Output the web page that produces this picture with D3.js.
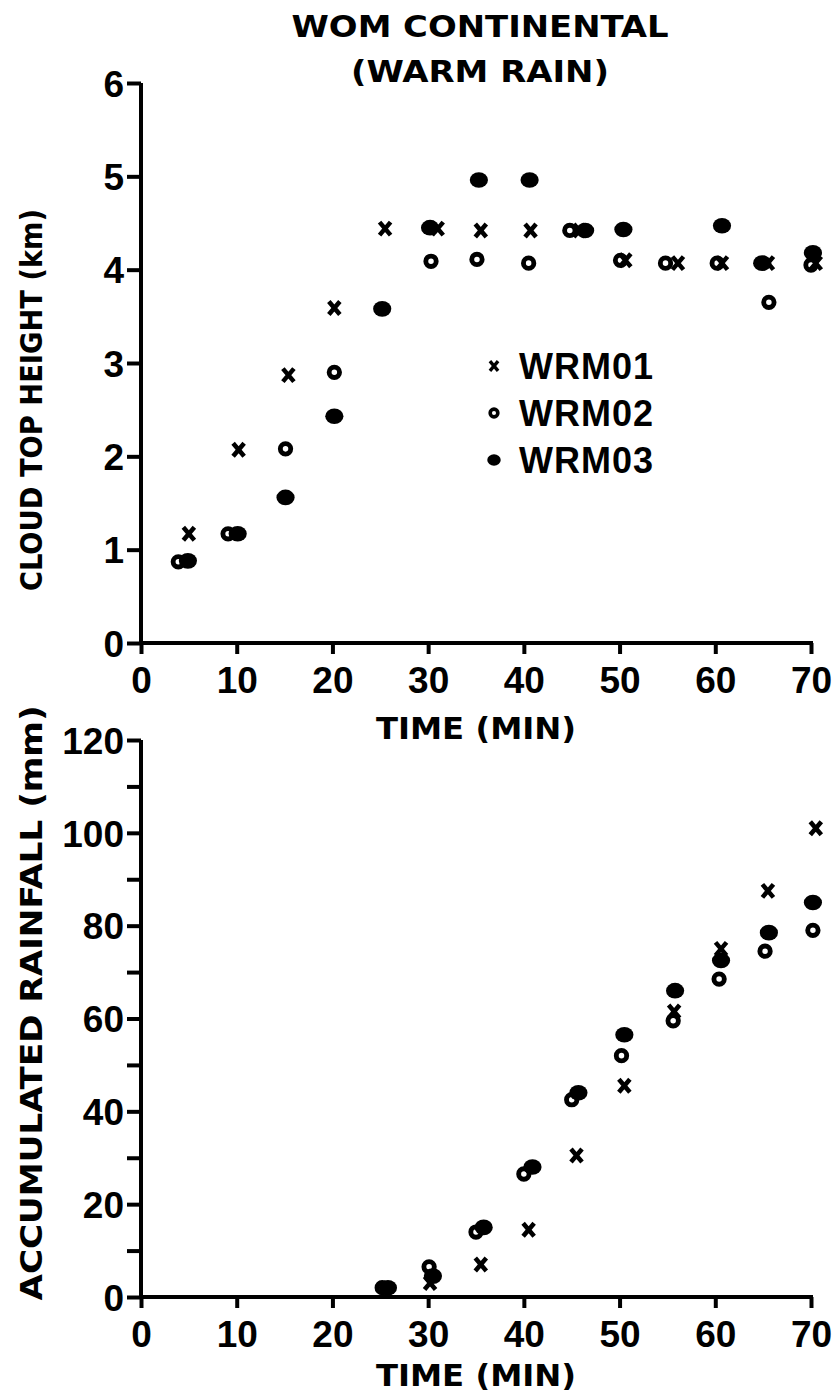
<!DOCTYPE html>
<html>
<head>
<meta charset="utf-8">
<script src="https://cdn.jsdelivr.net/npm/d3@7"></script>
<style>
  body { margin: 0; background: #fff; }
  text { fill: #000; }
</style>
</head>
<body>
<div id="chart"></div>
<script>
// tick values
var timeTicks = [0, 10, 20, 30, 40, 50, 60, 70];
var heightTicks = [0, 1, 2, 3, 4, 5, 6];
var rainTicks = [0, 10, 20, 30, 40, 50, 60, 70, 80, 90, 100, 110, 120];
var rainLabels = [0, 20, 40, 60, 80, 100, 120];

var seriesNames = ["WRM01", "WRM02", "WRM03"];
var seriesSymbols = ["cross", "ring", "dot"];

// cloud top height (km) vs time (min)
var wrm01Height = [[5, 1.17], [10.2, 2.07], [15.4, 2.87], [20.2, 3.59], [25.5, 4.44], [31, 4.44],
  [35.5, 4.42], [40.7, 4.42], [45.8, 4.42], [50.6, 4.1], [56.1, 4.07], [60.7, 4.07], [65.5, 4.07], [70.5, 4.07]];
var wrm02Height = [[3.9, 0.87], [9.1, 1.17], [15.1, 2.08], [20.2, 2.9], [30.3, 4.09], [35.1, 4.11],
  [40.5, 4.07], [44.8, 4.42], [50.1, 4.1], [54.8, 4.07], [60.2, 4.07], [65.6, 3.65], [70, 4.05]];
var wrm03Height = [[4.9, 0.88], [10.1, 1.17], [15.1, 1.56], [20.2, 2.43], [25.2, 3.58], [30.2, 4.45],
  [35.3, 4.96], [40.6, 4.96], [46.4, 4.42], [50.4, 4.43], [60.7, 4.47], [64.9, 4.07], [70.2, 4.18]];

// accumulated rainfall (mm) vs time (min)
var wrm01Rain = [[30.2, 3], [35.5, 7], [40.5, 14.5], [45.5, 30.5], [50.5, 45.5], [55.7, 61.5],
  [60.6, 75], [65.5, 87.5], [70.5, 101]];
var wrm02Rain = [[25.2, 2], [30.1, 6.5], [35, 14], [40, 26.5], [45, 42.5], [50.2, 52], [55.6, 59.5],
  [60.4, 68.5], [65.2, 74.5], [70.2, 79]];
var wrm03Rain = [[25.8, 2], [30.5, 4.5], [35.8, 15], [40.9, 28], [45.7, 44], [50.5, 56.5], [55.8, 66],
  [60.6, 72.5], [65.6, 78.5], [70.2, 85]];

var W = 838, H = 1400;
var font = "'Liberation Sans', Arial, sans-serif";
var condensed = "'DejaVu Sans Condensed', 'DejaVu Sans', sans-serif";

var svg = d3.select("#chart")
  .append("svg")
    .attr("width", W)
    .attr("height", H);

// shared time scale
var x = d3.scaleLinear().domain([0, 70]).range([141, 811]);

// draw one marker of a given symbol type
function drawMarker(g, type, cx, cy, s) {
  if (type == "cross") {
    g.append("path")
      .attr("d", "M" + (cx - s * 0.85) + "," + (cy - s) + "L" + (cx + s * 0.85) + "," + (cy + s) +
                 "M" + (cx - s * 0.85) + "," + (cy + s) + "L" + (cx + s * 0.85) + "," + (cy - s))
      .attr("stroke", "#000").attr("stroke-width", s * 0.7);
  } else if (type == "ring") {
    g.append("circle").attr("cx", cx).attr("cy", cy).attr("r", s * 0.8)
      .attr("fill", "none").attr("stroke", "#000").attr("stroke-width", s * 0.75);
  } else {
    g.append("ellipse").attr("cx", cx).attr("cy", cy).attr("rx", s * 1.4).attr("ry", s * 1.2)
      .attr("fill", "#000");
  }
}

function drawPanel(y, yTicks, yLabels, series, labelOffset) {
  var g = svg.append("g");

  // y axis
  var yAxis = g.append("g")
    .attr("transform", "translate(" + x(0) + ",0)")
    .call(d3.axisLeft(y).tickValues(yTicks).tickSize(14).tickPadding(3)
      .tickFormat(function(d) { return yLabels.indexOf(d) >= 0 ? d : ""; }));
  // x axis
  var xAxis = g.append("g")
    .attr("transform", "translate(0," + y(0) + ")")
    .call(d3.axisBottom(x).tickValues(timeTicks).tickSize(11).tickPadding(13));

  [yAxis, xAxis].forEach(function(a) {
    a.select(".domain").remove();
    a.selectAll(".tick line").attr("stroke-width", 4);
    a.selectAll("text")
      .style("font-family", font).style("font-size", "37px").style("font-weight", "bold");
  });
  yAxis.selectAll("text").attr("dy", "0.36em");
  g.append("line")
    .attr("x1", x(0)).attr("x2", x(0)).attr("y1", y.range()[1]).attr("y2", y(0) + 2)
    .attr("stroke", "#000").attr("stroke-width", 4);
  g.append("line")
    .attr("x1", x(0) - 2).attr("x2", x(70) + 2).attr("y1", y(0)).attr("y2", y(0))
    .attr("stroke", "#000").attr("stroke-width", 4);

  // x label
  g.append("text")
    .attr("x", (x(0) + x(70)) / 2)
    .attr("y", y(0) + labelOffset)
    .attr("text-anchor", "middle")
    .attr("textLength", 200).attr("lengthAdjust", "spacingAndGlyphs")
    .style("font-family", condensed).style("font-size", "31px").style("font-weight", "bold")
    .text("TIME (MIN)");

  // markers
  var mg = g.append("g");
  series.forEach(function(s, i) {
    s.forEach(function(p) {
      drawMarker(mg, seriesSymbols[i], x(p[0]), y(p[1]), 6.5);
    });
  });
  return g;
}

// top panel: cloud top height
var yTop = d3.scaleLinear().domain([0, 6]).range([643, 83]);
drawPanel(yTop, heightTicks, heightTicks, [wrm01Height, wrm02Height, wrm03Height], 96);

// bottom panel: accumulated rainfall
var yRain = d3.scaleLinear().domain([0, 120]).range([1297, 740]);
drawPanel(yRain, rainTicks, rainLabels, [wrm01Rain, wrm02Rain, wrm03Rain], 89);

// y axis titles
svg.append("text")
  .attr("transform", "translate(42,400) rotate(-90)")
  .attr("text-anchor", "middle")
  .attr("textLength", 382).attr("lengthAdjust", "spacingAndGlyphs")
  .style("font-family", condensed).style("font-size", "30px").style("font-weight", "bold")
  .text("CLOUD TOP HEIGHT (km)");
svg.append("text")
  .attr("transform", "translate(42,1003) rotate(-90)")
  .attr("text-anchor", "middle")
  .attr("textLength", 595).attr("lengthAdjust", "spacingAndGlyphs")
  .style("font-family", condensed).style("font-size", "30px").style("font-weight", "bold")
  .text("ACCUMULATED RAINFALL (mm)");

// title
svg.append("text")
  .attr("x", 480).attr("y", 37)
  .attr("text-anchor", "middle")
  .attr("textLength", 377).attr("lengthAdjust", "spacingAndGlyphs")
  .style("font-family", condensed).style("font-size", "31px").style("font-weight", "bold")
  .text("WOM CONTINENTAL");
svg.append("text")
  .attr("x", 480).attr("y", 82)
  .attr("text-anchor", "middle")
  .attr("textLength", 258).attr("lengthAdjust", "spacingAndGlyphs")
  .style("font-family", condensed).style("font-size", "31px").style("font-weight", "bold")
  .text("(WARM RAIN)");

// legend
var legend = svg.append("g");
seriesNames.forEach(function(name, i) {
  var ly = 366 + i * 47;
  drawMarker(legend, seriesSymbols[i], 494, ly, 4.8);
  legend.append("text")
    .attr("x", 519).attr("y", ly + 13)
    .style("font-family", font).style("font-size", "36px").style("font-weight", "bold")
    .style("letter-spacing", "1px")
    .text(name);
});
</script>
</body>
</html>
